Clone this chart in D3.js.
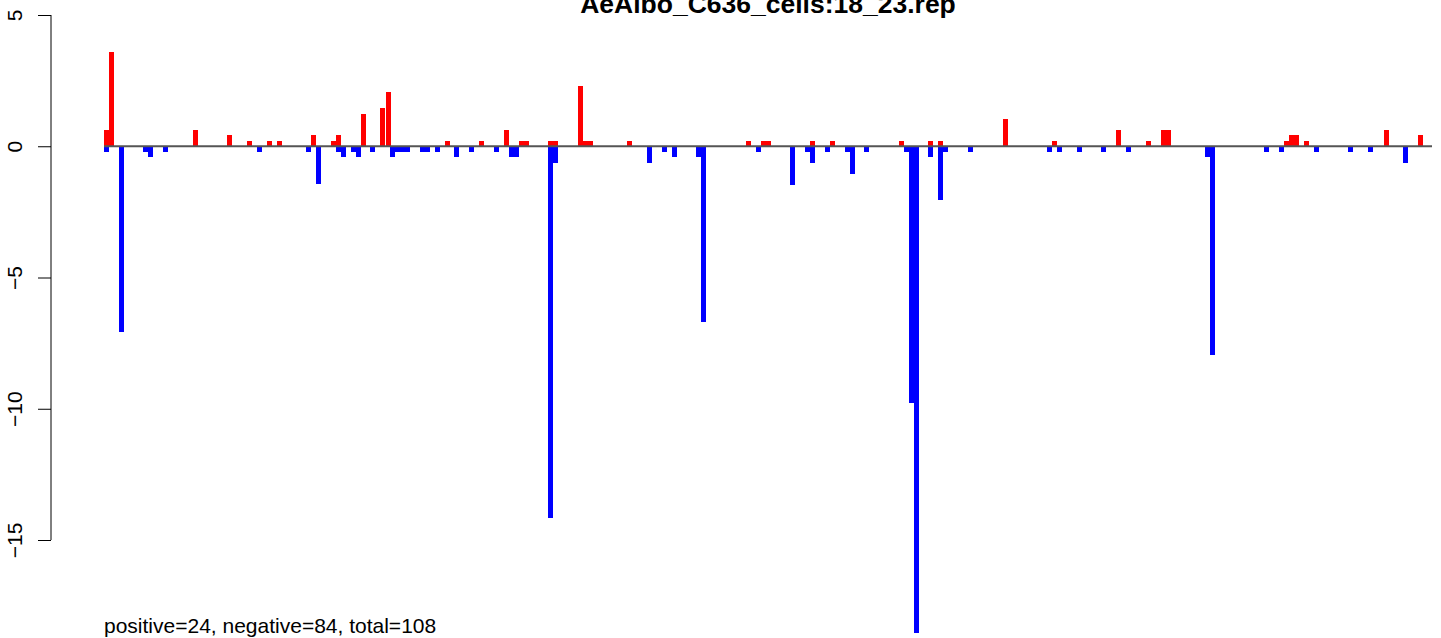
<!DOCTYPE html>
<html>
<head>
<meta charset="utf-8">
<script src="https://cdn.jsdelivr.net/npm/d3@7"></script>
<style>
html,body{margin:0;padding:0;background:#fff;}
svg{display:block;}
text{font-family:"Liberation Sans", Arial, sans-serif;}
</style>
</head>
<body>
<div id="chart"></div>
<script>
const title = "AeAlbo_C636_cells:18_23.rep";
const footer = "positive=24, negative=84, total=108";
const seqLength = 266;

const posPositions = [0, 1.0, 17.8, 24.6, 28.6, 32.7, 34.7, 41.5, 45.5, 46.5, 51.5, 55.3, 56.4,
  68.3, 75.1, 80.1, 83.1, 84.1, 88.9, 89.9, 94.9, 95.9, 96.9, 104.8, 128.6, 131.6, 132.6,
  141.4, 145.4, 159.3, 165.1, 167.1, 180.1, 189.9,
  202.7, 208.7, 211.7, 212.7, 236.4, 237.4, 238.4, 240.4, 256.4, 263.2];
const posValues = [0.61, 3.58, 0.61, 0.42, 0.19, 0.19, 0.19, 0.42, 0.19, 0.42, 1.22, 1.46, 2.06,
  0.19, 0.19, 0.61, 0.19, 0.19, 0.19, 0.19, 2.29, 0.19, 0.19, 0.19, 0.19, 0.19, 0.19,
  0.19, 0.19, 0.19, 0.19, 0.19, 1.03, 0.19,
  0.61, 0.19, 0.61, 0.61, 0.19, 0.42, 0.42, 0.19, 0.61, 0.42];

const negPositions = [0, 3.0, 7.9, 8.9, 11.8, 30.6, 40.5, 42.5, 46.5, 47.5, 49.5, 50.5, 53.3,
  57.3, 58.3, 59.3, 60.3, 63.3, 64.3, 66.3, 70.1, 73.1, 78.1, 81.1, 82.1, 88.9, 89.9,
  108.8, 111.8, 113.8, 118.6, 119.6, 130.6, 137.4, 140.4, 141.4, 144.4, 148.4, 149.4,
  152.2, 160.3, 161.3, 162.3, 165.1, 167.1, 168.1, 173.1, 188.9, 190.9, 194.9,
  199.7, 204.7, 220.6, 221.6, 232.4, 235.4, 242.4, 249.2, 253.2, 260.2];
const negValues = [-0.2, -7.09, -0.2, -0.4, -0.2, -0.2, -0.2, -1.45, -0.2, -0.4, -0.2, -0.4, -0.2,
  -0.4, -0.2, -0.2, -0.2, -0.2, -0.2, -0.2, -0.4, -0.2, -0.2, -0.4, -0.4, -14.17, -0.62,
  -0.62, -0.2, -0.4, -0.4, -6.7, -0.2, -1.48, -0.2, -0.62, -0.2, -0.2, -1.07,
  -0.2, -0.2, -9.79, -18.55, -0.4, -2.06, -0.2, -0.2, -0.2, -0.2, -0.2,
  -0.2, -0.2, -0.4, -7.96, -0.2, -0.2, -0.2, -0.2, -0.2, -0.62];

const yTicks = [5, 0, -5, -10, -15];

const W = 1441, H = 638;
const svg = d3.select("#chart").append("svg").attr("width", W).attr("height", H);

const x = d3.scaleLinear().domain([0, seqLength]).range([104, 1432]);
const y = d3.scaleLinear().domain([5, -15]).range([15, 540]);

const pos = posPositions.map((p, i) => ({p, v: posValues[i]}));
const neg = negPositions.map((p, i) => ({p, v: negValues[i]}));

const bars = svg.append("g").attr("shape-rendering", "crispEdges");
bars.selectAll("rect.pos").data(pos).join("rect")
  .attr("class", "pos")
  .attr("x", d => x(d.p))
  .attr("width", d => x(d.p + 1) - x(d.p))
  .attr("y", d => y(d.v))
  .attr("height", d => y(0) - y(d.v))
  .attr("fill", "#ff0000");
bars.selectAll("rect.neg").data(neg).join("rect")
  .attr("class", "neg")
  .attr("x", d => x(d.p))
  .attr("width", d => x(d.p + 1) - x(d.p))
  .attr("y", y(0))
  .attr("height", d => y(d.v) - y(0))
  .attr("fill", "#0000ff");

// baseline
svg.append("line")
  .attr("x1", x(0)).attr("x2", x(seqLength))
  .attr("y1", y(0)).attr("y2", y(0))
  .attr("stroke", "#555555").attr("stroke-width", 2);

// y axis
const axis = d3.axisLeft(y).tickValues(yTicks).tickSize(13).tickPadding(0)
  .tickFormat(d => d < 0 ? "\u2212" + Math.abs(d) : String(d));
const ag = svg.append("g").attr("transform", "translate(51,0)").call(axis);
ag.select(".domain").attr("d", `M0,${y(5)}V${y(-15)}`).attr("stroke", "#000");
ag.selectAll(".tick line").attr("stroke", "#000");
ag.selectAll(".tick text")
  .attr("x", null).attr("dy", null)
  .attr("transform", "translate(-29,0) rotate(-90)")
  .attr("text-anchor", "middle")
  .attr("font-size", 21)
  .attr("font-family", "Liberation Sans, Arial, sans-serif")
  .attr("fill", "#000");

// title
svg.append("text")
  .attr("x", (x(0) + x(seqLength)) / 2)
  .attr("y", 13)
  .attr("text-anchor", "middle")
  .attr("font-weight", "bold")
  .attr("font-size", 26.5)
  .text(title);

// footer
svg.append("text")
  .attr("x", 104).attr("y", 633)
  .attr("font-size", 21)
  .text(footer);
</script>
</body>
</html>
